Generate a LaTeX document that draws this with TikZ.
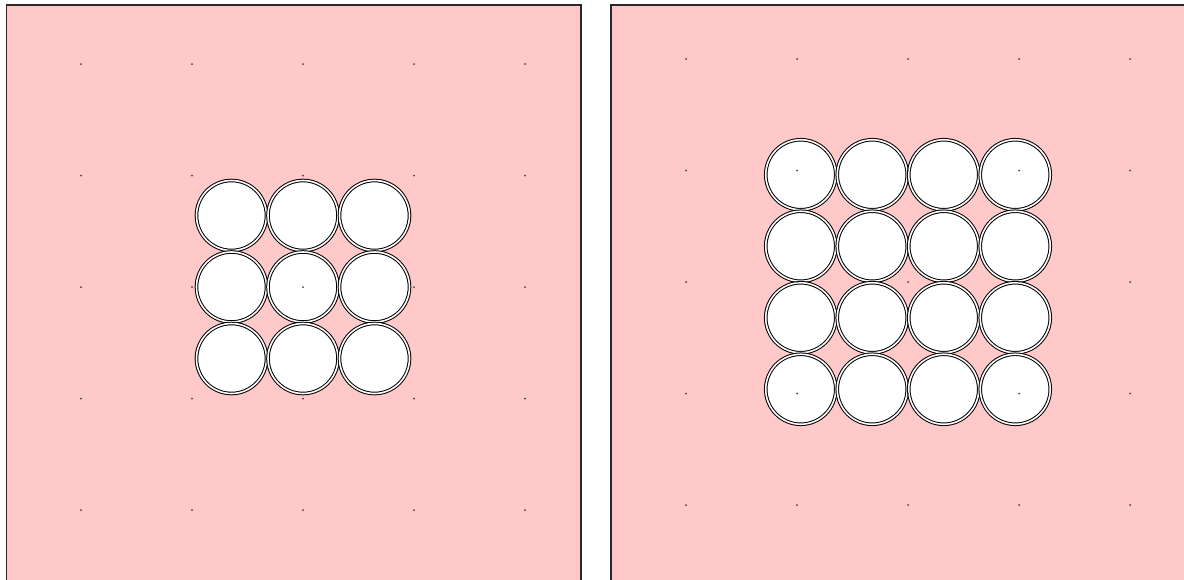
\documentclass[tikz,border=0pt]{standalone}
\usepackage{tikz}
\definecolor{panelpink}{RGB}{255,201,201}
\definecolor{rimgray}{RGB}{40,40,40}
\tikzset{
  panel/.style={fill=panelpink,draw=rimgray,line width=0.8pt},
  disc/.style={draw=black,line width=0.5pt,double=white,double distance=0.8pt,fill=white},
  gdot/.style={fill=black!75,draw=none},
}

\begin{document}
\begin{tikzpicture}[x=0.5pt,y=-0.5pt]
  \useasboundingbox (0,0) rectangle (1184,579);
  \fill[white] (0,0) rectangle (1184,579);
  \clip (0,0) rectangle (1184,579);

  % --- two panels (open at the bottom and right) ---
  \draw[panel] (6.5,5) rectangle (581,600);
  \draw[panel] (611,5) rectangle (1200,600);

  % --- left panel: 3x3 discs ---
  \foreach \i in {-1,0,1}
    \foreach \j in {-1,0,1}
      \draw[disc] (303+71.5*\i,287+71.5*\j) circle (35);

  % --- right panel: 4x4 discs ---
  \foreach \i in {-1.5,-0.5,0.5,1.5}
    \foreach \j in {-1.5,-0.5,0.5,1.5}
      \draw[disc] (908+71.5*\i,282+71.5*\j) circle (35);

  % --- grid dots ---
  \foreach \i in {-2,...,2}
    \foreach \j in {-2,...,2}{
      \fill[gdot] (303+111*\i,287+111.5*\j) circle (1);
      \fill[gdot] (908+111*\i,282+111.5*\j) circle (1);
    }
\end{tikzpicture}
\end{document}
